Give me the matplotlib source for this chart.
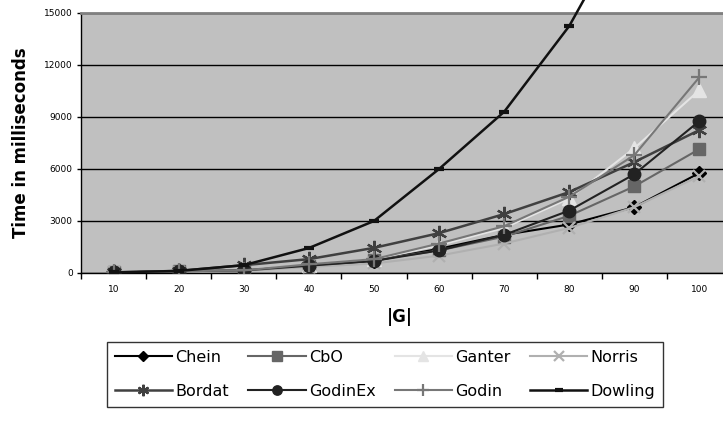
import numpy as np
import matplotlib.pyplot as plt
from matplotlib.ticker import FixedLocator, NullFormatter

sizes = ['10', '20', '30', '40', '50', '60', '70', '80', '90', '100']

chein = [30, 100, 150, 400, 700, 1400, 2200, 2800, 3800, 5770]
cbo = [30, 100, 150, 400, 750, 1300, 2100, 3300, 5000, 7150]
ganter = [30, 100, 150, 450, 800, 1600, 2600, 4300, 7200, 10550]
norris = [30, 80, 120, 350, 550, 1000, 1700, 2600, 3800, 5600]
bordat = [40, 120, 450, 800, 1450, 2300, 3400, 4670, 6400, 8250]
godinex = [30, 100, 150, 420, 700, 1300, 2200, 3600, 5700, 8770]
godin = [30, 100, 150, 500, 800, 1700, 2700, 4400, 6800, 11300]
dowling = [30, 120, 450, 1440, 3000, 6000, 9300, 14250, 21000, 30000]

series = [
    ('Chein', chein, '#000000', 'D', 7, 1.5),
    ('CbO', cbo, '#666666', 's', 9, 1.5),
    ('Ganter', ganter, '#e4e4e4', '^', 10, 1.5),
    ('Norris', norris, '#b0b0b0', 'x', 9, 1.5),
    ('Bordat', bordat, '#404040', (6, 2, 0), 11, 1.8),
    ('GodinEx', godinex, '#222222', 'o', 9, 1.5),
    ('Godin', godin, '#777777', '+', 12, 1.5),
    ('Dowling', dowling, '#111111', '_', 7, 1.8),
]

fig = plt.figure(figsize=(7.23, 4.25), dpi=100)
ax = fig.add_axes([81/723, 1 - 273/425, 651/723, 260/425])
ax.set_facecolor('#c0c0c0')

x = np.arange(1, len(sizes) + 1)
handles = {}
for name, vals, col, mk, ms, lw in series:
    mew = 1.6 if mk in ('x', '+', (6, 2, 0)) else 1
    if name == 'Dowling':
        mew = 3
    h, = ax.plot(x, vals, color=col, marker=mk, markersize=ms, linewidth=lw,
                 markeredgewidth=mew, label=name,
                 clip_on=(name != 'Dowling'), zorder=3)
    handles[name] = h

ax.set_xlim(0.5, len(sizes) + 0.5)
ax.set_ylim(0, 15000)
ax.set_yticks(np.arange(0, 15001, 3000))
ax.tick_params(axis='y', labelsize=6.5, length=3, width=1, pad=3)
ax.grid(axis='y', color='#000000', linewidth=1)
ax.set_axisbelow(True)

ax.xaxis.set_major_locator(FixedLocator(np.arange(0.5, len(sizes) + 1, 1)))
ax.xaxis.set_major_formatter(NullFormatter())
ax.xaxis.set_minor_locator(FixedLocator(x))
ax.set_xticklabels(sizes, minor=True)
ax.tick_params(axis='x', which='major', length=4, width=1)
ax.tick_params(axis='x', which='minor', length=0, labelsize=6.5, pad=9)

for s in ['left', 'bottom']:
    ax.spines[s].set_color('#000000')
    ax.spines[s].set_linewidth(1)
ax.spines['top'].set_color('#808080')
ax.spines['top'].set_linewidth(2)
ax.spines['right'].set_visible(False)

ax.set_ylabel('Time in milliseconds', fontsize=12, fontweight='bold', labelpad=10)
fig.text(400/723, 1 - 317/425, '|G|', fontsize=12, fontweight='bold',
         ha='center', va='center')

# legend fills column by column, so interleave the two rows
order = ['Chein', 'Bordat', 'CbO', 'GodinEx', 'Ganter', 'Godin', 'Norris', 'Dowling']
leg = fig.legend([handles[n] for n in order], order,
                 loc='center', bbox_to_anchor=(385/723, 1 - 374.5/425), ncol=4,
                 fontsize=11.5, frameon=True, fancybox=False, edgecolor='#000000',
                 handlelength=3.6, columnspacing=1.2, handletextpad=0.2,
                 labelspacing=1.2, borderpad=0.5, markerscale=0.75)
leg.get_frame().set_linewidth(1)

fig.savefig('out.png', dpi=100)
